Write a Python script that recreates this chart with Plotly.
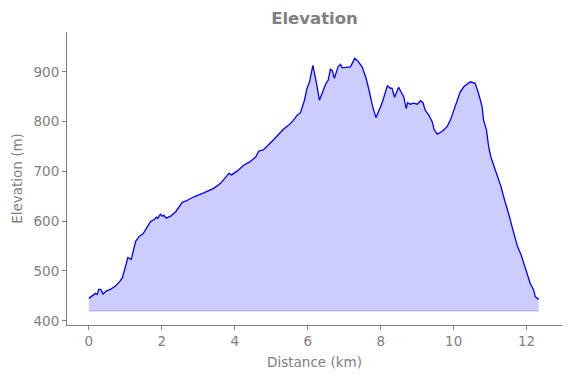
import plotly.graph_objects as go

distance_km = [0.00, 0.09, 0.18, 0.23, 0.27, 0.32, 0.39, 0.48, 0.59, 0.73, 0.85, 0.92, 0.98, 1.03, 1.07,
               1.16, 1.23, 1.28, 1.37, 1.49, 1.58, 1.69, 1.80, 1.85, 1.89, 1.96, 2.01, 2.05, 2.12,
               2.24, 2.38, 2.47, 2.56, 2.70, 2.88, 3.15, 3.42, 3.61, 3.75, 3.84, 3.91, 4.07, 4.25, 4.41,
               4.57, 4.66, 4.78, 4.93, 5.07, 5.21, 5.34, 5.48, 5.60, 5.71, 5.80, 5.91, 5.98, 6.05, 6.14,
               6.24, 6.32, 6.41, 6.50, 6.56, 6.62, 6.67, 6.73, 6.83, 6.90, 6.94, 7.08, 7.17, 7.29, 7.38,
               7.49, 7.60, 7.69, 7.78, 7.87, 7.96, 8.05, 8.18, 8.27, 8.31, 8.38, 8.49, 8.59,
               8.63, 8.70, 8.74, 8.81, 8.90, 9.00, 9.09, 9.16, 9.22, 9.32, 9.41, 9.47, 9.55, 9.68, 9.82,
               9.91, 10.00, 10.09, 10.18, 10.29, 10.46, 10.59,
               10.68, 10.78, 10.82, 10.90, 10.96, 11.02, 11.12, 11.21, 11.30, 11.37, 11.46, 11.53, 11.60,
               11.67, 11.75, 11.85, 11.92, 12.01, 12.10, 12.19, 12.24, 12.33]
elevation_m = [445, 450, 455, 453, 463, 463, 454, 460, 463, 470, 479, 487, 502, 518, 527,
               523, 542, 559, 569, 575, 586, 599, 604, 608, 606, 614, 610, 612, 606,
               610, 619, 628, 638, 642, 649, 657, 666, 676, 689, 696, 693, 701, 713, 719,
               729, 741, 743, 753, 764, 775, 785, 793, 802, 813, 818, 843, 867, 880, 913,
               877, 843, 860, 877, 883, 905, 903, 887, 910, 915, 908, 909, 910, 927, 921,
               910, 887, 860, 830, 808, 823, 840, 872, 867, 867, 849, 869, 857,
               850, 826, 838, 835, 837, 835, 842, 838, 823, 813, 800, 783, 775, 780, 790,
               803, 823, 843, 860, 871, 880, 877,
               857, 830, 803, 783, 749, 729, 709, 689, 669, 649, 629, 609, 589,
               569, 549, 532, 515, 495, 475, 462, 448, 443]
fill_base_m = 420
x_ticks = [0, 2, 4, 6, 8, 10, 12]
y_ticks = [400, 500, 600, 700, 800, 900]

grey = "#808080"
font = "DejaVu Sans"

fig = go.Figure()
fig.add_trace(go.Scatter(x=distance_km, y=[fill_base_m] * len(distance_km), mode="lines",
                         line=dict(color="rgba(0,0,255,0.2)", width=1.5), hoverinfo="skip",
                         showlegend=False))
fig.add_trace(go.Scatter(x=distance_km, y=elevation_m, mode="lines", fill="tonexty",
                         fillcolor="rgba(0,0,255,0.2)", line=dict(color="#0000ff", width=1.3),
                         showlegend=False))

# page body adds an 8px offset; compensate by shifting the plot area up/left
fig.update_layout(
    width=571, height=378,
    margin=dict(l=59, r=17, t=24, b=61),
    paper_bgcolor="white", plot_bgcolor="white",
    font=dict(family=font, size=13.5, color=grey),
    title=dict(text="<b>Elevation</b>", x=0.5, xref="paper", xanchor="center",
               y=1 - 10 / 378, yref="container", yanchor="middle",
               font=dict(family=font, size=16.5, color=grey)),
    xaxis=dict(range=[-0.60, 12.97], tickvals=x_ticks, ticks="outside", ticklen=4,
               tickcolor=grey, showline=True, linecolor=grey, linewidth=1, showgrid=False,
               zeroline=False, mirror=False, automargin=False,
               title=dict(text="Distance (km)", standoff=9, font=dict(size=13.5, color=grey))),
    yaxis=dict(range=[391.5, 980], tickvals=y_ticks, ticks="outside", ticklen=4,
               tickcolor=grey, showline=True, linecolor=grey, linewidth=1, showgrid=False,
               zeroline=False, automargin=False,
               title=dict(text="Elevation (m)", standoff=7, font=dict(size=13.5, color=grey))),
)

fig.write_html("out.html")
